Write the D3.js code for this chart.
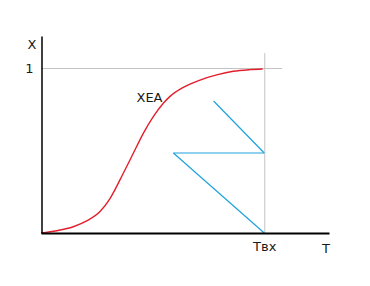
<!DOCTYPE html>
<html><head><meta charset="utf-8">
<script src="https://cdn.jsdelivr.net/npm/d3@7"></script>
<style>
html,body{margin:0;padding:0;background:#fff;}
svg{display:block;}
text{font-family:"DejaVu Sans",sans-serif;font-size:13px;fill:#1a1a1a;}
</style></head>
<body><svg id="c" width="370" height="286"></svg>
<script>
// Curve ХЕА (T, X)
const curveT = [0, 0.703, 1.447, 2.047, 2.643, 3.091, 3.686, 4.134, 4.582, 5.030, 5.478, 5.778, 6.374, 7.122, 7.870, 8.613, 9.361, 9.930];
const curveX = [0, 0.014, 0.038, 0.073, 0.130, 0.209, 0.362, 0.483, 0.604, 0.705, 0.786, 0.828, 0.883, 0.927, 0.958, 0.980, 0.990, 0.994];
// Blue construction lines: [T1, X1, T2, X2]
const blueSegs = [
  [7.73, 0.80, 10, 0.485],
  [5.93, 0.485, 10, 0.485],
  [5.93, 0.485, 10, 0]
];
const Tin = 10;        // Tвх
const xTickLabels = ["Tвх"];
const yTickValues = [1];
const xDomain = [0, 12.9];
const yDomain = [0, 1.194];
const guideXEnd = 10.8;  // end of horizontal guide at X=1
const guideYEnd = 1.09;  // top of vertical guide at Tвх

const svg = d3.select("#c");
const x = d3.scaleLinear().domain(xDomain).range([41, 329]);
const y = d3.scaleLinear().domain(yDomain).range([233, 36]);
const FONT = "DejaVu Sans, sans-serif";

// gray guides
svg.append("line").attr("x1", x(0)).attr("x2", x(guideXEnd)).attr("y1", y(1)+0.5).attr("y2", y(1)+0.5)
  .attr("stroke", "#c3c3c3").attr("stroke-width", 1);
svg.append("line").attr("x1", x(Tin)+0.5).attr("x2", x(Tin)+0.5).attr("y1", y(0)).attr("y2", y(guideYEnd))
  .attr("stroke", "#c3c3c3").attr("stroke-width", 1);

// blue lines
svg.selectAll(".blue").data(blueSegs).join("line").attr("class", "blue")
  .attr("x1", d => x(d[0])).attr("y1", d => y(d[1]))
  .attr("x2", d => x(d[2])).attr("y2", d => y(d[3]))
  .attr("stroke", "#1ea2dc").attr("stroke-width", 1.2);

// red curve
const pts = curveT.map((t, i) => [t, curveX[i]]);
svg.append("path").datum(pts)
  .attr("d", d3.line().x(d => x(d[0])).y(d => y(d[1])).curve(d3.curveMonotoneX))
  .attr("fill", "none").attr("stroke", "#e41e2c").attr("stroke-width", 1.4);

// axes
const xAxis = d3.axisBottom(x).tickValues([Tin]).tickFormat((d, i) => xTickLabels[i]).tickSize(0).tickPadding(9).tickSizeOuter(0);
const gx = svg.append("g").attr("transform", `translate(0,${y(0)})`).call(xAxis);
gx.select(".domain").attr("stroke", "#000").attr("stroke-width", 2);
gx.selectAll("text").style("font-size", "13px").style("font-family", FONT).attr("fill", "#1a1a1a");

const yAxis = d3.axisLeft(y).tickValues(yTickValues).tickFormat(d3.format("d")).tickSize(0).tickPadding(8).tickSizeOuter(0);
const gy = svg.append("g").attr("transform", `translate(${x(0)+0.5},0)`).call(yAxis);
gy.select(".domain").attr("stroke", "#000").attr("stroke-width", 1.5);
gy.selectAll("text").style("font-size", "13px").style("font-family", FONT).attr("fill", "#1a1a1a");

// axis titles and curve label
svg.append("text").attr("x", 32).attr("y", 48.5).attr("text-anchor", "middle").text("X");
svg.append("text").attr("x", 326).attr("y", 253).attr("text-anchor", "middle").text("T");
svg.append("text").attr("x", x(4.86)).attr("y", 102).attr("text-anchor", "middle").text("XEA");
</script></body></html>
